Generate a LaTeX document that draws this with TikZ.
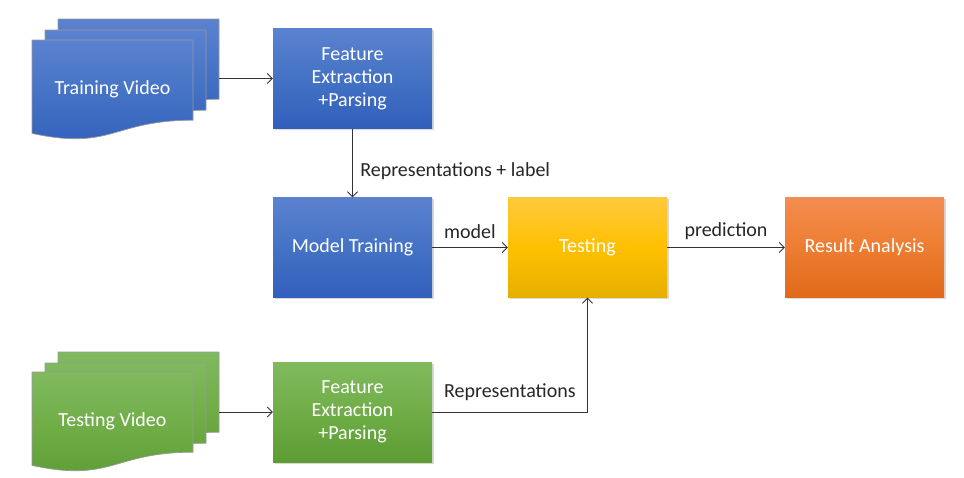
\documentclass[tikz,border=0pt]{standalone}
\usepackage{fontspec}
\setmainfont{Carlito}
\usetikzlibrary{positioning,shadows,arrows.meta}

\definecolor{bluetop}{HTML}{5B82D0}
\definecolor{bluemid}{HTML}{4472C4}
\definecolor{bluebot}{HTML}{325FBC}
\definecolor{greentop}{HTML}{80BA5E}
\definecolor{greenmid}{HTML}{70AD47}
\definecolor{greenbot}{HTML}{5C9C33}
\definecolor{yellowtop}{HTML}{FFC93D}
\definecolor{yellowmid}{HTML}{FFC000}
\definecolor{yellowbot}{HTML}{E6AF00}
\definecolor{orangetop}{HTML}{F38C50}
\definecolor{orangemid}{HTML}{ED7D31}
\definecolor{orangebot}{HTML}{E0691A}
\definecolor{labeltext}{HTML}{262626}

% one document sheet with a wavy bottom, top left corner at (#1,#2)
\newcommand{\docsheet}[3]{%
  \begin{scope}[shift={(#1,#2)}]
    \shade[#3, draw=black!40, line width=0.7pt]
      (0,0) -- (161,0) -- (161,-80.2)
      .. controls (80.5,-80.2) and (80.5,-110.8) .. (0,-93.4) -- cycle;
  \end{scope}}

\tikzset{
  bluefill/.style={top color=bluetop, bottom color=bluebot, middle color=bluemid},
  greenfill/.style={top color=greentop, bottom color=greenbot, middle color=greenmid},
  yellowfill/.style={top color=yellowtop, bottom color=yellowbot, middle color=yellowmid},
  orangefill/.style={top color=orangetop, bottom color=orangebot, middle color=orangemid},
  box/.style={rectangle, minimum width=159pt, minimum height=100pt, inner sep=0pt,
    align=center, text=white,
    drop shadow={shadow xshift=1.5pt, shadow yshift=-1.5pt, opacity=0.3}},
  doctext/.style={text=white, inner sep=0pt},
  arr/.style={-{Straight Barb[length=5pt, width=10pt]}, black!80, line width=0.9pt},
  lbl/.style={text=labeltext}
}

\begin{document}
\begin{tikzpicture}[x=1pt, y=1pt, font=\fontsize{20}{23}\selectfont]
  \useasboundingbox (0,0) rectangle (964,-477);

  % training video stack
  \docsheet{58}{-19}{bluefill}
  \docsheet{45}{-30}{bluefill}
  \docsheet{32}{-40}{bluefill}
  \node[doctext] (trainvid) at (112.5,-89) {Training Video};
  \coordinate (trainback) at (219,-70);

  % testing video stack
  \docsheet{58}{-352}{greenfill}
  \docsheet{45}{-363}{greenfill}
  \docsheet{32}{-372}{greenfill}
  \node[doctext] (testvid) at (112.5,-421) {Testing Video};
  \coordinate (testback) at (219,-402);

  % processing steps
  \node[box, bluefill] (trainfeat) at (352.5,-78.5) {Feature\\Extraction\\+Parsing};
  \node[box, bluefill] (modeltrain) at (352.5,-247.5) {Model Training};
  \node[box, yellowfill] (testing) at (587.5,-247.5) {Testing};
  \node[box, orangefill] (result) at (864.5,-247.5) {Result Analysis};
  \node[box, greenfill] (testfeat) at (352.5,-412) {Feature\\Extraction\\+Parsing};

  \draw[arr] (trainback |- trainfeat) -- (trainfeat);
  \draw[arr] (testback |- testfeat) -- (testfeat);
  \draw[arr] (trainfeat) -- node[lbl, right, xshift=4pt, yshift=-8pt] {Representations + label} (modeltrain);
  \draw[arr] (modeltrain) -- node[lbl, above, yshift=5pt] {model} (testing);
  \draw[arr] (testing) -- node[lbl, above, yshift=4pt] {prediction} (result);
  \draw[arr] (testfeat) -| node[lbl, above, pos=0.25, yshift=8pt] {Representations} (testing);
\end{tikzpicture}
\end{document}
